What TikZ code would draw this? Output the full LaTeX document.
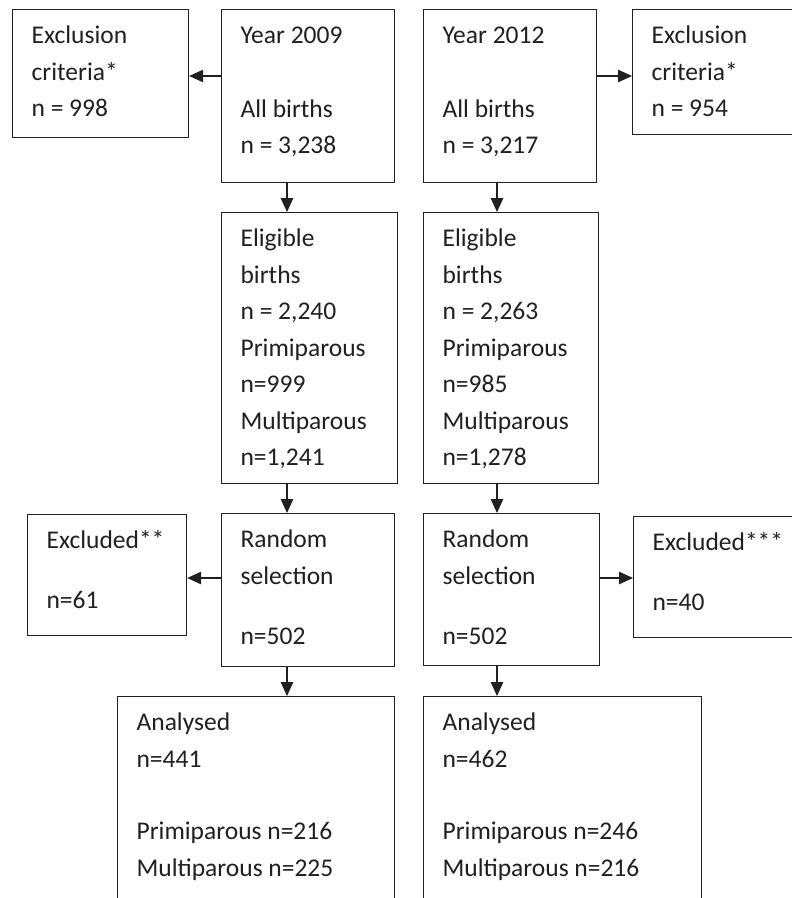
\documentclass[tikz,border=0pt]{standalone}
\usepackage{fontspec}
\setmainfont{Carlito}
\usetikzlibrary{arrows.meta}
\definecolor{lineColor}{RGB}{35,31,32}
\tikzstyle{chart} = [x = 1pt, y = -1pt]
\tikzstyle{boxStyle} = [draw=lineColor, line width=1.2pt, anchor=north west, inner xsep=19pt, inner ysep=0pt, text=lineColor, font={\fontsize{25.5}{36.5}\selectfont}]
\tikzstyle{arrowStyle} = [draw=lineColor, line width=1.1pt, -{Triangle[length=14pt, width=12.5pt]}]
\newcommand{\firstLine}{\rule{0pt}{34pt}}
\newcommand{\flowBox}[6]{\node [boxStyle] (#1) at (#2, #3) {\parbox[t][#5pt][t]{\dimexpr #4pt - 38pt\relax}{\raggedright\firstLine #6}};}

\begin{document}
\begin{tikzpicture}[chart]
  \clip (0, 0) rectangle (792, 898);
  \fill [white] (0, 0) rectangle (792, 898);

  % year 2009 column
  \flowBox{excl09}{12}{9}{176}{128}{Exclusion\\ criteria*\\ n = 998}
  \flowBox{year09}{221}{9}{173}{173}{Year 2009\\[37pt] All births\\ n = 3,238}
  \flowBox{elig09}{221}{212}{176}{271}{Eligible\\ births\\ n = 2,240\\ Primiparous\\ n=999\\ Multiparous\\ n=1,241}
  \flowBox{exclB09}{27}{514}{159}{121}{Excluded**\\[23.5pt] n=61}
  \flowBox{rand09}{221}{513}{173}{153}{Random\\ selection\\[23.5pt] n=502}
  \flowBox{anal09}{117}{696}{277}{230}{Analysed\\ n=441\\[36pt] Primiparous n=216\\ Multiparous n=225}

  % year 2012 column
  \flowBox{year12}{423}{9}{173}{173}{Year 2012\\[37pt] All births\\ n = 3,217}
  \flowBox{excl12}{632}{9}{180}{125}{Exclusion\\ criteria*\\ n = 954}
  \flowBox{elig12}{423}{212}{175}{271}{Eligible\\ births\\ n = 2,263\\ Primiparous\\ n=985\\ Multiparous\\ n=1,278}
  \flowBox{rand12}{423}{513}{176}{152}{Random\\ selection\\[23.5pt] n=502}
  \flowBox{exclB12}{633}{516}{180}{121}{Excluded***\\[23.5pt] n=40}
  \flowBox{anal12}{423}{696}{278}{230}{Analysed\\ n=462\\[36pt] Primiparous n=246\\ Multiparous n=216}

  % arrow lines
  \coordinate (col09) at (287, 0);
  \coordinate (col12) at (497, 0);
  \coordinate (rowTop) at (0, 76);
  \coordinate (rowMid) at (0, 578);
  \draw [arrowStyle] (year09.west |- rowTop) -- (excl09.east |- rowTop);
  \draw [arrowStyle] (year12.east |- rowTop) -- (excl12.west |- rowTop);
  \draw [arrowStyle] (year09.south -| col09) -- (elig09.north -| col09);
  \draw [arrowStyle] (year12.south -| col12) -- (elig12.north -| col12);
  \draw [arrowStyle] (elig09.south -| col09) -- (rand09.north -| col09);
  \draw [arrowStyle] (elig12.south -| col12) -- (rand12.north -| col12);
  \draw [arrowStyle] (rand09.west |- rowMid) -- (exclB09.east |- rowMid);
  \draw [arrowStyle] (rand12.east |- rowMid) -- (exclB12.west |- rowMid);
  \draw [arrowStyle] (rand09.south -| col09) -- (anal09.north -| col09);
  \draw [arrowStyle] (rand12.south -| col12) -- (anal12.north -| col12);
\end{tikzpicture}
\end{document}
